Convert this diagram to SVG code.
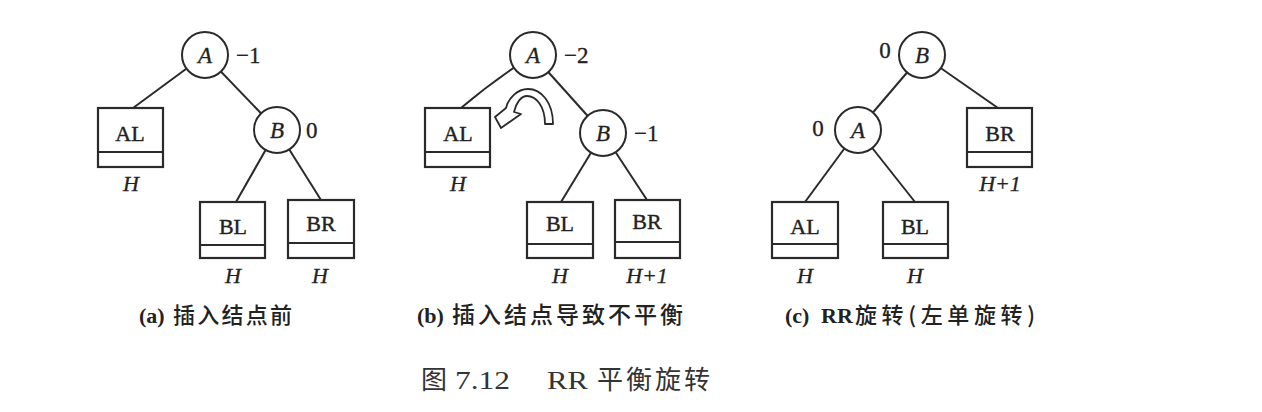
<svg xmlns="http://www.w3.org/2000/svg" width="1262" height="412" viewBox="0 0 1262 412">
<style>
.edge{stroke:#2a2a2a;stroke-width:2;fill:none}
.circ{fill:#fff;stroke:#2a2a2a;stroke-width:2}
.box{fill:#fff;stroke:#2a2a2a;stroke-width:2.2}
.div{stroke:#2a2a2a;stroke-width:2}
.nl{font-family:"Liberation Serif",serif;font-style:italic;font-size:23px;fill:#222;text-anchor:middle;stroke:#222;stroke-width:0.3}
.bl{font-family:"Liberation Serif",serif;font-size:22px;fill:#222;text-anchor:middle;stroke:#222;stroke-width:0.4}
.h{font-family:"Liberation Serif",serif;font-style:italic;font-size:22px;fill:#222;text-anchor:middle;stroke:#222;stroke-width:0.3}
.num{font-family:"Liberation Serif",serif;font-size:23px;fill:#222;stroke:#222;stroke-width:0.3}
.cap{font-family:"Liberation Serif","Noto Sans CJK SC",sans-serif;font-size:22px;fill:#222}
.lat{font-weight:bold}
.cjk{font-family:"Noto Sans CJK SC",sans-serif;font-weight:500}
.title{font-family:"Liberation Serif","Noto Sans CJK SC",sans-serif;font-size:26px;fill:#333}
</style>
<rect width="1262" height="412" fill="#fff"/>
<g id="connectors">
<line class="edge" x1="205" y1="55" x2="133" y2="108"/>
<line class="edge" x1="205" y1="55" x2="277" y2="130"/>
<line class="edge" x1="277" y1="130" x2="236" y2="202"/>
<line class="edge" x1="277" y1="130" x2="321" y2="200"/>
<path class="edge" d="M533,55 Q494,80 461,108"/>
<line class="edge" x1="533" y1="55" x2="603" y2="133"/>
<line class="edge" x1="603" y1="133" x2="561" y2="202"/>
<line class="edge" x1="603" y1="133" x2="647" y2="200"/>
<line class="edge" x1="922" y1="55" x2="858" y2="130"/>
<line class="edge" x1="922" y1="55" x2="998" y2="108"/>
<line class="edge" x1="858" y1="130" x2="805" y2="202"/>
<line class="edge" x1="858" y1="130" x2="915" y2="202"/>
</g>
<g id="a-A"><circle class="circ" cx="205" cy="55" r="23"/><text class="nl" x="205" y="63">A</text><text class="num" x="236" y="63">−1</text></g>
<g id="a-B"><circle class="circ" cx="277" cy="130" r="23"/><text class="nl" x="277" y="138">B</text><text class="num" x="306" y="138">0</text></g>
<g id="a-AL"><rect class="box" x="98" y="108" width="65" height="59"/><line class="div" x1="98" y1="152" x2="163" y2="152"/><text class="bl" x="130" y="141">AL</text><text class="h" x="131" y="191">H</text></g>
<g id="a-BL"><rect class="box" x="200" y="202" width="65" height="56"/><line class="div" x1="200" y1="245" x2="265" y2="245"/><text class="bl" x="233" y="234">BL</text><text class="h" x="233" y="283">H</text></g>
<g id="a-BR"><rect class="box" x="288" y="200" width="66" height="58"/><line class="div" x1="288" y1="243" x2="354" y2="243"/><text class="bl" x="321" y="231">BR</text><text class="h" x="320" y="283">H</text></g>
<text class="cap" y="323"><tspan class="lat" x="139">(a)</tspan><tspan class="cjk" x="173" textLength="119" lengthAdjust="spacing">插入结点前</tspan></text>

<g id="b-A"><circle class="circ" cx="533" cy="55" r="23"/><text class="nl" x="533" y="63">A</text><text class="num" x="564" y="63">−2</text></g>
<g id="b-B"><circle class="circ" cx="603" cy="133" r="23"/><text class="nl" x="603" y="141">B</text><text class="num" x="634" y="141">−1</text></g>
<g id="b-AL"><rect class="box" x="425" y="108" width="65" height="59"/><line class="div" x1="425" y1="152" x2="490" y2="152"/><text class="bl" x="458" y="141">AL</text><text class="h" x="458" y="191">H</text></g>
<g id="b-BL"><rect class="box" x="527" y="202" width="66" height="56"/><line class="div" x1="527" y1="244" x2="593" y2="244"/><text class="bl" x="560" y="231">BL</text><text class="h" x="560" y="283">H</text></g>
<g id="b-BR"><rect class="box" x="615" y="200" width="65" height="58"/><line class="div" x1="615" y1="242" x2="680" y2="242"/><text class="bl" x="647" y="229">BR</text><text class="h" x="647" y="283">H+1</text></g>
<g id="b-rotate"><path d="M553,124 C553,102 541,89 528,89 C517,89 508,99 506,108 L495,117 L501,128 L521,114 L514,112 C516,103 521,96 527,96 C536,96 545,106 545,124 Z" fill="#fff" stroke="#2a2a2a" stroke-width="1.8" stroke-linejoin="round"/></g>
<text class="cap" y="323"><tspan class="lat" x="417">(b)</tspan><tspan class="cjk" x="452" font-size="23" textLength="231" lengthAdjust="spacing">插入结点导致不平衡</tspan></text>

<g id="c-B"><circle class="circ" cx="922" cy="55" r="23"/><text class="nl" x="922" y="63">B</text><text class="num" x="885" y="58" text-anchor="middle">0</text></g>
<g id="c-A"><circle class="circ" cx="858" cy="130" r="23"/><text class="nl" x="858" y="138">A</text><text class="num" x="818" y="136" text-anchor="middle">0</text></g>
<g id="c-BR"><rect class="box" x="967" y="108" width="65" height="59"/><line class="div" x1="967" y1="152" x2="1032" y2="152"/><text class="bl" x="1000" y="141">BR</text><text class="h" x="1000" y="191">H+1</text></g>
<g id="c-AL"><rect class="box" x="772" y="202" width="66" height="56"/><line class="div" x1="772" y1="244" x2="838" y2="244"/><text class="bl" x="805" y="234">AL</text><text class="h" x="805" y="283">H</text></g>
<g id="c-BL"><rect class="box" x="883" y="202" width="65" height="56"/><line class="div" x1="883" y1="244" x2="948" y2="244"/><text class="bl" x="915" y="234">BL</text><text class="h" x="915" y="283">H</text></g>
<text class="cap" y="323"><tspan class="lat" x="785">(c)</tspan><tspan class="lat" x="821">RR</tspan><tspan class="cjk" x="855" textLength="180" lengthAdjust="spacing">旋转(左单旋转)</tspan></text>

<text class="title" y="389"><tspan x="421">图</tspan><tspan x="455" textLength="55" lengthAdjust="spacingAndGlyphs">7.12</tspan><tspan x="547" textLength="41" lengthAdjust="spacingAndGlyphs">RR</tspan><tspan x="597" textLength="113" lengthAdjust="spacing">平衡旋转</tspan></text>
</svg>
